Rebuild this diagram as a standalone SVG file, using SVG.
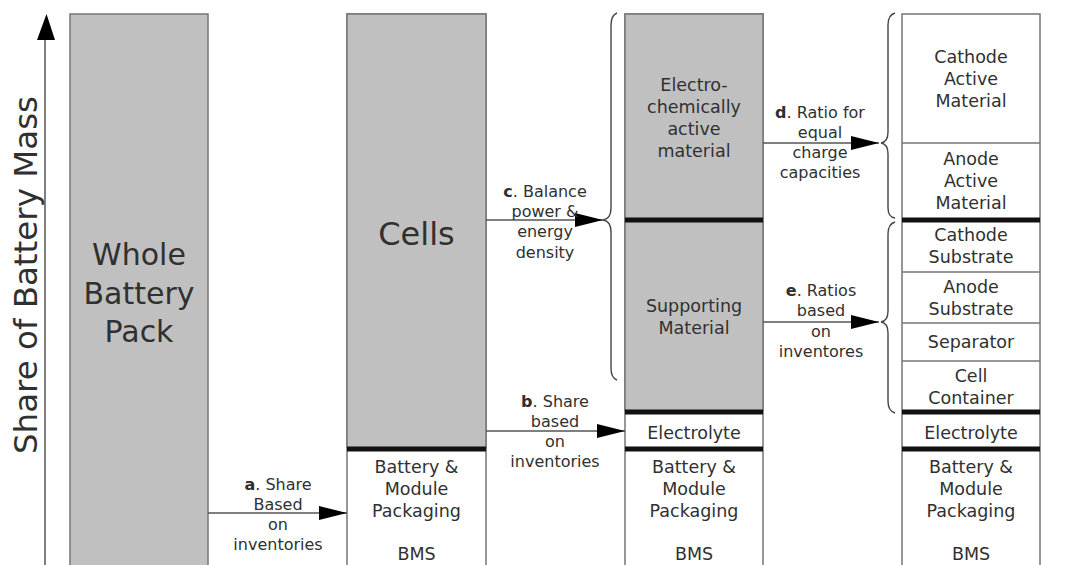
<svg xmlns="http://www.w3.org/2000/svg" width="1078" height="565" viewBox="0 0 1078 565">
<style>
text{font-family:"DejaVu Sans","Liberation Sans",sans-serif;fill:#303030;text-anchor:middle}
.box{fill:#fff;stroke:#767676;stroke-width:1.5}
.gray{fill:#c0c0c0;stroke:#767676;stroke-width:1.5}
.thin{stroke:#767676;stroke-width:1.5}
.thick{stroke:#111;stroke-width:5}
.t{font-size:17.5px}
.big{font-size:30px}
.lbl{font-size:16px}
.conn{stroke:#555;stroke-width:1.3;fill:none;marker-end:url(#ah)}
.brace{stroke:#444;stroke-width:1.4;fill:none}
</style>
<defs>
<marker id="ah" markerUnits="userSpaceOnUse" markerWidth="28" markerHeight="14" refX="28" refY="7" orient="auto">
<path d="M0,0 L28,7 L0,14 z" fill="#000"/>
</marker>
</defs>
<rect width="1078" height="565" fill="#fff"/>

<g id="axis">
<line x1="45" y1="566" x2="45" y2="38" stroke="#555" stroke-width="1.5"/>
<polygon points="46.5,14 37,40 55,40" fill="#000"/>
<text transform="translate(37,275) rotate(-90)" style="font-size:32px" textLength="358" lengthAdjust="spacingAndGlyphs">Share of Battery Mass</text>
</g>

<g id="col1">
<rect class="gray" x="70" y="14" width="138" height="560"/>
<text class="big" x="139" y="265">Whole</text>
<text class="big" x="139" y="304">Battery</text>
<text class="big" x="139" y="342">Pack</text>
</g>

<g id="col2">
<rect class="box" x="347" y="14" width="139" height="560"/>
<rect class="gray" x="347" y="14" width="139" height="434"/>
<line class="thick" x1="347" y1="449" x2="486" y2="449"/>
<text x="416.5" y="245" style="font-size:32px">Cells</text>
<text class="t" x="416.5" y="473">Battery &amp;</text>
<text class="t" x="416.5" y="495">Module</text>
<text class="t" x="416.5" y="517">Packaging</text>
<text class="t" x="416.5" y="560">BMS</text>
</g>

<g id="col3">
<rect class="box" x="625" y="14" width="138" height="560"/>
<rect class="gray" x="625" y="14" width="138" height="397"/>
<line class="thick" x1="625" y1="220" x2="763" y2="220"/>
<line class="thick" x1="625" y1="412" x2="763" y2="412"/>
<line class="thick" x1="625" y1="449" x2="763" y2="449"/>
<text class="t" x="694" y="91">Electro-</text>
<text class="t" x="694" y="113">chemically</text>
<text class="t" x="694" y="135">active</text>
<text class="t" x="694" y="157">material</text>
<text class="t" x="694" y="312">Supporting</text>
<text class="t" x="694" y="334">Material</text>
<text class="t" x="694" y="439">Electrolyte</text>
<text class="t" x="694" y="473">Battery &amp;</text>
<text class="t" x="694" y="495">Module</text>
<text class="t" x="694" y="517">Packaging</text>
<text class="t" x="694" y="560">BMS</text>
</g>

<g id="col4">
<rect class="box" x="902" y="14" width="138" height="560"/>
<line class="thin" x1="902" y1="143" x2="1040" y2="143"/>
<line class="thick" x1="902" y1="220" x2="1040" y2="220"/>
<line class="thin" x1="902" y1="272" x2="1040" y2="272"/>
<line class="thin" x1="902" y1="323" x2="1040" y2="323"/>
<line class="thin" x1="902" y1="361" x2="1040" y2="361"/>
<line class="thick" x1="902" y1="412" x2="1040" y2="412"/>
<line class="thick" x1="902" y1="449" x2="1040" y2="449"/>
<text class="t" x="971" y="63">Cathode</text>
<text class="t" x="971" y="85">Active</text>
<text class="t" x="971" y="107">Material</text>
<text class="t" x="971" y="165">Anode</text>
<text class="t" x="971" y="187">Active</text>
<text class="t" x="971" y="209">Material</text>
<text class="t" x="971" y="241">Cathode</text>
<text class="t" x="971" y="263">Substrate</text>
<text class="t" x="971" y="293">Anode</text>
<text class="t" x="971" y="315">Substrate</text>
<text class="t" x="971" y="348">Separator</text>
<text class="t" x="971" y="382">Cell</text>
<text class="t" x="971" y="404">Container</text>
<text class="t" x="971" y="439">Electrolyte</text>
<text class="t" x="971" y="473">Battery &amp;</text>
<text class="t" x="971" y="495">Module</text>
<text class="t" x="971" y="517">Packaging</text>
<text class="t" x="971" y="560">BMS</text>
</g>

<g id="braces">
<path class="brace" d="M617,13 Q611,15 611,26 L611,208 Q611,219 603,220 Q611,221 611,232 L611,368 Q611,378 617,380"/>
<path class="brace" d="M895,13 Q888,15 888,25 L888,132 Q888,142 881,143 Q888,144 888,154 L888,208 Q888,217 895,218"/>
<path class="brace" d="M895,222 Q888,224 888,234 L888,311 Q888,321 881,322 Q888,323 888,333 L888,401 Q888,411 895,413"/>
</g>

<g id="connectors">
<line class="conn" x1="208" y1="513" x2="347" y2="513"/>
<line class="conn" x1="486" y1="431" x2="625" y2="431"/>
<line class="conn" x1="486" y1="220" x2="603" y2="220"/>
<line class="conn" x1="763" y1="143" x2="879" y2="143"/>
<line class="conn" x1="763" y1="322" x2="879" y2="322"/>
</g>

<g id="labels">
<text class="lbl" x="278" y="490"><tspan font-weight="bold">a</tspan>. Share</text>
<text class="lbl" x="278" y="510">Based</text>
<text class="lbl" x="278" y="530">on</text>
<text class="lbl" x="278" y="550">inventories</text>

<text class="lbl" x="555" y="407"><tspan font-weight="bold">b</tspan>. Share</text>
<text class="lbl" x="555" y="427">based</text>
<text class="lbl" x="555" y="447">on</text>
<text class="lbl" x="555" y="467">inventories</text>

<text class="lbl" x="545" y="197"><tspan font-weight="bold">c</tspan>. Balance</text>
<text class="lbl" x="545" y="217">power &amp;</text>
<text class="lbl" x="545" y="237">energy</text>
<text class="lbl" x="545" y="258">density</text>

<text class="lbl" x="820" y="118"><tspan font-weight="bold">d</tspan>. Ratio for</text>
<text class="lbl" x="820" y="138">equal</text>
<text class="lbl" x="820" y="158">charge</text>
<text class="lbl" x="820" y="178">capacities</text>

<text class="lbl" x="821" y="296"><tspan font-weight="bold">e</tspan>. Ratios</text>
<text class="lbl" x="821" y="316">based</text>
<text class="lbl" x="821" y="337">on</text>
<text class="lbl" x="821" y="357">inventores</text>
</g>
</svg>
